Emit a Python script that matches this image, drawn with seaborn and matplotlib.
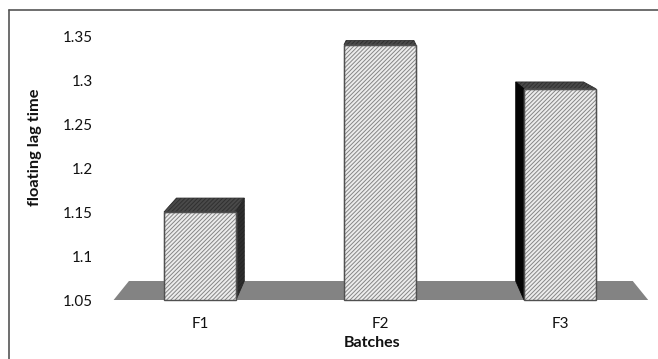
import matplotlib
matplotlib.use("Agg")
import matplotlib.pyplot as plt
from matplotlib.patches import Polygon, Rectangle
from matplotlib.lines import Line2D
import seaborn as sns
import pandas as pd

# Floating lag time per batch
batches = ["F1", "F2", "F3"]
lag_time = [1.15, 1.34, 1.29]
y_ticks = [1.05, 1.1, 1.15, 1.2, 1.25, 1.3, 1.35]
y_tick_labels = ["1.05", "1.1", "1.15", "1.2", "1.25", "1.3", "1.35"]

df = pd.DataFrame({"Batch": batches, "Lag": lag_time})

sns.set_theme(style="white")
plt.rcParams["font.family"] = ["Lato", "DejaVu Sans"]
plt.rcParams["hatch.linewidth"] = 0.7

W, H = 658, 359
fig = plt.figure(figsize=(W / 100, H / 100), dpi=100)

BASE = 1.05
YTOP = 1.375
XLIM = (-0.48, 2.49)
# axes placed so that 1.05 sits on the floor line and 0.05 spans ~44 px
ax_bottom_px = 300
px_per_unit = 880
ax_height_px = (YTOP - BASE) * px_per_unit
ax_left_px = 200 + XLIM[0] * 180
ax_width_px = (XLIM[1] - XLIM[0]) * 180
ax = fig.add_axes([ax_left_px / W, (H - ax_bottom_px) / H,
                   ax_width_px / W, ax_height_px / H])

sns.barplot(data=df, x="Batch", y="Lag", ax=ax, width=0.4, saturation=1,
            color="#ededed", edgecolor="#858585", linewidth=0.9,
            hatch="////////", zorder=5)

ax.set_ylim(BASE, YTOP)
ax.set_xlim(*XLIM)
ax.set_yticks(y_ticks)
ax.set_yticklabels(y_tick_labels)
for s in ax.spines.values():
    s.set_visible(False)
ax.tick_params(axis="both", length=0, labelsize=10.9, colors="#111111")
ax.tick_params(axis="y", pad=15)
ax.tick_params(axis="x", pad=12)
ax.set_xlabel("")
ax.set_ylabel("")

# simple perspective: the back plane recedes toward a vanishing point
K = 0.0576
VP_X, VP_Y = 1.0, 1.425


def recede(x, y):
    return x + K * (VP_X - x), y + K * (VP_Y - y)


# floor plane
fl, fr = XLIM
floor = [(fl, BASE), (fr, BASE), recede(fr, BASE), recede(fl, BASE)]
ax.add_patch(Polygon(floor, closed=True, facecolor="#838383",
                     edgecolor="none", zorder=1, clip_on=False))

for p in list(ax.patches):
    if not isinstance(p, Rectangle):
        continue
    x0, w, top = p.get_x(), p.get_width(), p.get_height()
    x1 = x0 + w
    # top face
    tf = [(x0, top), (x1, top), recede(x1, top), recede(x0, top)]
    ax.add_patch(Polygon(tf, closed=True, facecolor="#4a4a4a",
                         edgecolor="#303030", linewidth=0.6, hatch="////////",
                         zorder=3, clip_on=False))
    # side faces visible from the viewpoint
    if x1 < VP_X:
        sf = [(x1, top), recede(x1, top), recede(x1, BASE), (x1, BASE)]
        ax.add_patch(Polygon(sf, closed=True, facecolor="#2e2e2e",
                             edgecolor="#262626", linewidth=0.6,
                             hatch="////////", zorder=3, clip_on=False))
    if x0 > VP_X:
        sf = [(x0, top), recede(x0, top), recede(x0, BASE), (x0, BASE)]
        ax.add_patch(Polygon(sf, closed=True, facecolor="#050505",
                             edgecolor="#050505", linewidth=0.6,
                             zorder=3, clip_on=False))
    # darker outline of the front face
    ax.add_patch(Rectangle((x0, BASE), w, top - BASE, fill=False,
                           edgecolor="#505050", linewidth=1.0, zorder=6,
                           clip_on=False))

# axis titles
fig.text(35 / W, 1 - 147 / H, "floating lag time", rotation=90,
         ha="center", va="center", fontsize=11.8, fontweight="bold",
         color="#111111")
fig.text(372 / W, 1 - 343 / H, "Batches", ha="center", va="center",
         fontsize=11.5, fontweight="bold", color="#111111")

# chart border
fig.add_artist(Line2D([8.5 / W, 8.5 / W], [-0.05, 1 - 10 / H],
                      transform=fig.transFigure, color="#555555", lw=1.2))
fig.add_artist(Line2D([8.5 / W, 1.05], [1 - 10 / H, 1 - 10 / H],
                      transform=fig.transFigure, color="#555555", lw=1.2))

fig.savefig("out.png", dpi=100)
